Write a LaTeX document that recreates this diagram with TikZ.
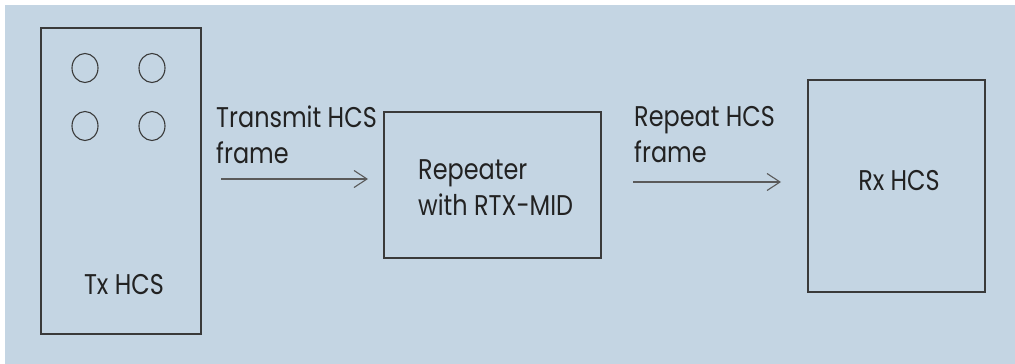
\documentclass[tikz,border=0pt]{standalone}
\usepackage{fontspec}
\setmainfont[FakeStretch=0.84]{Poppins}
\usetikzlibrary{arrows.meta,shapes.geometric}
\definecolor{bgblue}{HTML}{C4D5E3}
\definecolor{linegray}{HTML}{3A3A3A}
\definecolor{arrgray}{HTML}{5A5A5A}
\definecolor{txtcol}{HTML}{222222}
\tikzset{
  blk/.style={draw=linegray, line width=1.2pt},
  lbl/.style={inner sep=0pt, text=txtcol, font=\fontsize{28.5}{36}\selectfont, align=left},
  flow/.style={draw=arrgray, line width=1.3pt, -{Straight Barb[length=13pt,width=17pt,line width=1.1pt]}},
  hole/.style={draw=linegray, line width=1.1pt, ellipse, minimum width=26pt, minimum height=29pt, inner sep=0pt}
}
\begin{document}
\begin{tikzpicture}[x=1pt,y=-1pt]
\useasboundingbox (0,0) rectangle (1015,364);
\fill[white] (0,0) rectangle (1015,364);
\fill[bgblue] (5,5) rectangle (1015,364);
% Tx block
\draw[blk] (41,28) rectangle (201,334);
\node[hole] (c1) at (85,68) {};
\node[hole] (c2) at (152,68) {};
\node[hole] (c3) at (85,126) {};
\node[hole] (c4) at (152,126) {};
\node[lbl] (tx) at (124,285) {Tx HCS};
\coordinate (txr) at (221,179);
% Repeater
\node[blk, minimum width=217pt, minimum height=146pt, inner sep=0pt] (rep) at (492.5,185) {};
\node[lbl, anchor=west] (reptxt) at (418,188) {Repeater\\with RTX-MID};
% Rx block
\node[blk, minimum width=177pt, minimum height=212pt, inner sep=0pt] (rx) at (896.5,186) {};
\node[lbl] (rxtxt) at (899,181) {Rx HCS};
% arrows
\coordinate (a1e) at (368,179);
\coordinate (a2s) at (633,182);
\coordinate (a2e) at (781,182);
\draw[flow] (txr) -- (a1e);
\draw[flow] (a2s) -- (a2e);
\node[lbl, anchor=west] (l1) at (216,135) {Transmit HCS\\frame};
\node[lbl, anchor=west] (l2) at (634,135) {Repeat HCS\\frame};
\end{tikzpicture}
\end{document}
